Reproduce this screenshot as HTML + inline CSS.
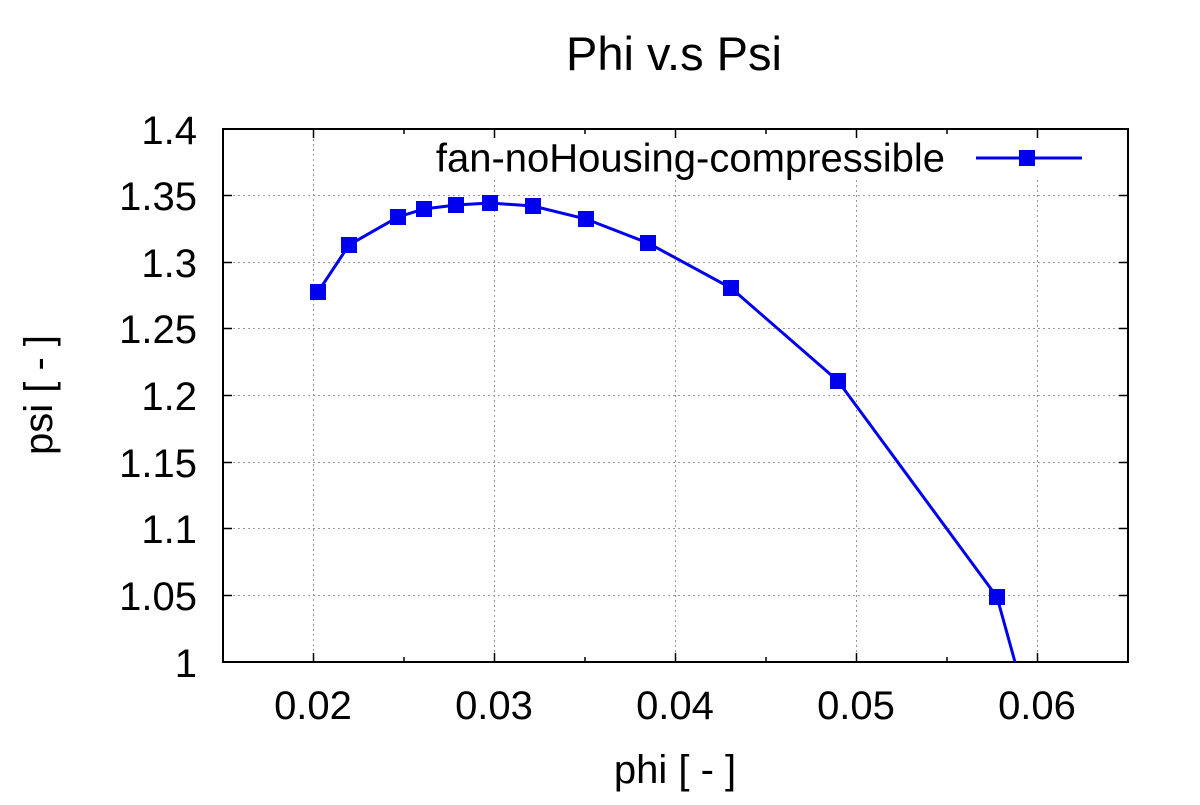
<!DOCTYPE html>
<html><head><style>body{margin:0;background:#fff}</style></head><body>
<svg width="1200" height="800" xmlns="http://www.w3.org/2000/svg" font-family="Liberation Sans, sans-serif">
<rect width="1200" height="800" fill="#fff"/>
<g stroke="#999" stroke-width="1" stroke-dasharray="2,3">
<line x1="313.5" y1="129" x2="313.5" y2="662"/>
<line x1="494.5" y1="180" x2="494.5" y2="662"/>
<line x1="675.5" y1="180" x2="675.5" y2="662"/>
<line x1="856.5" y1="180" x2="856.5" y2="662"/>
<line x1="1037.5" y1="180" x2="1037.5" y2="662"/>
<line x1="223" y1="195.5" x2="1128" y2="195.5"/>
<line x1="223" y1="262.5" x2="1128" y2="262.5"/>
<line x1="223" y1="328.5" x2="1128" y2="328.5"/>
<line x1="223" y1="395.5" x2="1128" y2="395.5"/>
<line x1="223" y1="462.5" x2="1128" y2="462.5"/>
<line x1="223" y1="528.5" x2="1128" y2="528.5"/>
<line x1="223" y1="595.5" x2="1128" y2="595.5"/>
</g>
<g stroke="#000" stroke-width="1.5">
<path d="M313.5 662v-9M494.5 662v-9M675.5 662v-9M856.5 662v-9M1037.5 662v-9M404 662v-5M585 662v-5M766 662v-5M947 662v-5M313.5 129v9M494.5 129v9M675.5 129v9M856.5 129v9M1037.5 129v9M404 129v5M585 129v5M766 129v5M947 129v5"/>
<path d="M223 129h9M223 195.5h9M223 262.5h9M223 328.5h9M223 395.5h9M223 462.5h9M223 528.5h9M223 595.5h9M223 662h9M1128 195.5h-9M1128 262.5h-9M1128 328.5h-9M1128 395.5h-9M1128 462.5h-9M1128 528.5h-9M1128 595.5h-9"/>
</g>
<rect x="223" y="129" width="905" height="533" fill="none" stroke="#000" stroke-width="2"/>
<polyline fill="none" stroke="#0000ee" stroke-width="3" points="318,292 349,245 398,217 424,209 456,205 490,203 533,206 586,219 648,243 731,288 838,381 997,597 1015,662"/>
<g fill="#0000ee">
<rect x="310" y="284" width="16" height="16"/><rect x="341" y="237" width="16" height="16"/><rect x="390" y="209" width="16" height="16"/><rect x="416" y="201" width="16" height="16"/><rect x="448" y="197" width="16" height="16"/><rect x="482" y="195" width="16" height="16"/><rect x="525" y="198" width="16" height="16"/><rect x="578" y="211" width="16" height="16"/><rect x="640" y="235" width="16" height="16"/><rect x="723" y="280" width="16" height="16"/><rect x="830" y="373" width="16" height="16"/><rect x="989" y="589" width="16" height="16"/>
<rect x="1019" y="150" width="16" height="16"/>
</g>
<line x1="976" y1="158" x2="1082" y2="158" stroke="#0000ee" stroke-width="3"/>
<text x="945" y="161" font-size="40" text-anchor="end" dominant-baseline="middle">fan-noHousing-compressible</text>
<text x="674" y="70" font-size="47" text-anchor="middle">Phi v.s Psi</text>
<g font-size="40" text-anchor="end">
<text x="197" y="144">1.4</text><text x="197" y="210">1.35</text><text x="197" y="277">1.3</text><text x="197" y="343">1.25</text><text x="197" y="410">1.2</text><text x="197" y="477">1.15</text><text x="197" y="543">1.1</text><text x="197" y="610">1.05</text><text x="197" y="677">1</text>
</g>
<g font-size="40" text-anchor="middle">
<text x="313" y="719">0.02</text><text x="494" y="719">0.03</text><text x="675" y="719">0.04</text><text x="856" y="719">0.05</text><text x="1037" y="719">0.06</text>
<text x="675" y="783">phi [ - ]</text>
</g>
<text transform="translate(52,395) rotate(-90)" font-size="40" text-anchor="middle">psi [ - ]</text>
</svg>
</body></html>
